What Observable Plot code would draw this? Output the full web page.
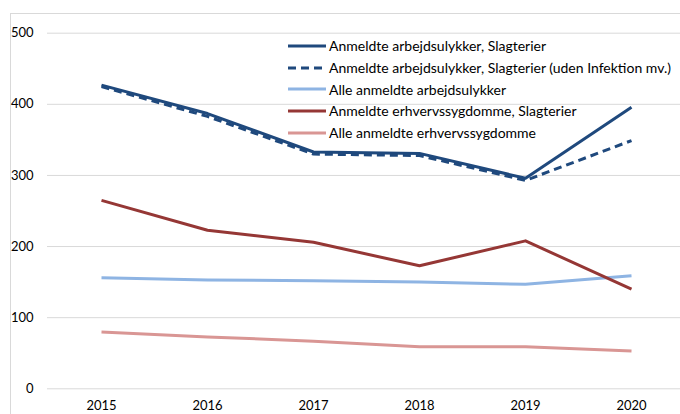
<!DOCTYPE html>
<html><head><meta charset="utf-8">
<script src="https://cdn.jsdelivr.net/npm/d3@7"></script>
<script src="https://cdn.jsdelivr.net/npm/@observablehq/plot@0.6"></script>
<style>
html,body{margin:0;padding:0;background:#fff;}
#wrap{position:relative;width:680px;height:414px;font-family:Lato,"Open Sans",sans-serif;}
#frame{position:absolute;left:10px;top:13px;width:700px;height:420px;border-left:1px solid #d9d9d9;border-top:1px solid #d9d9d9;}
#legend{position:absolute;left:288px;top:35px;font-size:14px;color:#000;}
.item{display:flex;align-items:center;height:21.7px;white-space:nowrap;}
.item svg{margin-right:3px;}
</style></head>
<body><div id="wrap"><div id="frame"></div><div id="legend"></div></div>
<script>
const years = [2015, 2016, 2017, 2018, 2019, 2020];
const seriesNames = [
  "Anmeldte arbejdsulykker, Slagterier",
  "Anmeldte arbejdsulykker, Slagterier (uden Infektion mv.)",
  "Alle anmeldte arbejdsulykker",
  "Anmeldte erhvervssygdomme, Slagterier",
  "Alle anmeldte erhvervssygdomme"
];
const slagUlykker = [427, 387, 333, 331, 296, 396];
const slagUlykkerUdenInf = [425, 383, 330, 328, 293, 349];
const alleUlykker = [156, 153, 152, 150, 147, 159];
const slagSygdom = [265, 223, 206, 173, 208, 140];
const alleSygdom = [80, 73, 67, 59, 59, 53];
const yTicks = [0, 100, 200, 300, 400, 500];
const colors = ["#1f497d", "#1f497d", "#8eb4e3", "#953735", "#d99694"];
const dashes = [null, "8,5", null, null, null];

const seriesValues = [slagUlykker, slagUlykkerUdenInf, alleUlykker, slagSygdom, alleSygdom];
const data = seriesValues.flatMap((vals, i) => vals.map((v, j) => ({year: years[j], value: v, series: seriesNames[i]})));

const lineMarks = seriesNames.map((name, i) => Plot.line(data.filter(d => d.series === name), {
  x: "year", y: "value", stroke: colors[i], strokeWidth: 3,
  strokeDasharray: dashes[i] || undefined, strokeLinejoin: "round", strokeLinecap: "butt"
}));

const chart = Plot.plot({
  width: 680, height: 414,
  marginLeft: 47, marginRight: 0, marginTop: 32.7, marginBottom: 25.7,
  style: {fontFamily: "Lato, 'Open Sans', sans-serif", fontSize: "13px", color: "#000", background: "transparent", overflow: "visible"},
  x: {type: "point", domain: years, range: [100, 632], padding: 0},
  y: {domain: [0, 500]},
  marks: [
    Plot.ruleY(yTicks, {stroke: "#d9d9d9", strokeWidth: 1}),
    Plot.axisY({ticks: yTicks, tickSize: 0, tickPadding: 14, label: null, fontSize: 13}),
    Plot.axisX({ticks: years, tickSize: 0, tickPadding: 12, label: null, tickFormat: d => String(d), fontSize: 13}),
    ...lineMarks
  ]
});
chart.style.position = "absolute";
chart.style.left = "0";
chart.style.top = "0";
document.getElementById("wrap").appendChild(chart);

const legend = document.getElementById("legend");
seriesNames.forEach((name, i) => {
  const div = document.createElement("div");
  div.className = "item";
  div.innerHTML = `<svg width="38" height="6"><line x1="0" x2="38" y1="3" y2="3" stroke="${colors[i]}" stroke-width="3" ${dashes[i] ? `stroke-dasharray="${dashes[i]}"` : ""}/></svg><span>${name}</span>`;
  legend.appendChild(div);
});
</script></body></html>
